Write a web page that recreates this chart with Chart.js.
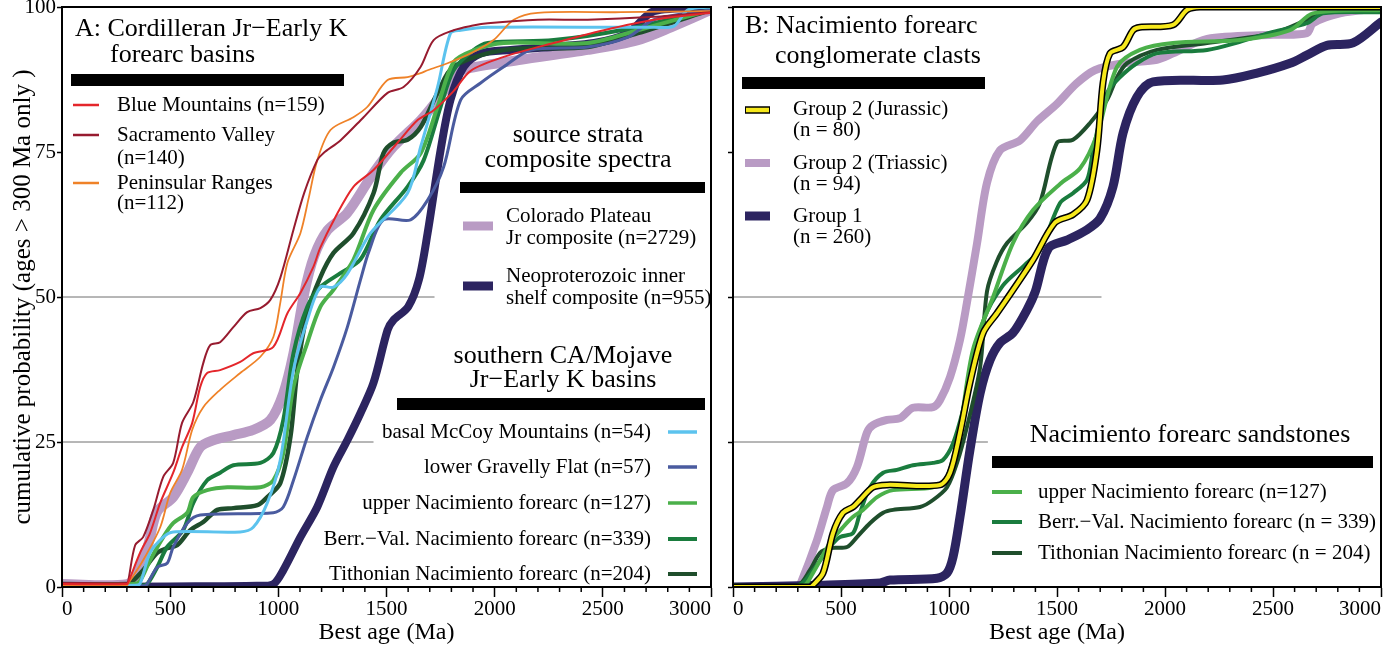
<!DOCTYPE html>
<html>
<head>
<meta charset="utf-8">
<script src="https://cdn.jsdelivr.net/npm/chart.js@4.4.1/dist/chart.umd.min.js"></script>
<style>
body { margin: 0; background: #fff; overflow: hidden; }
#wrapA { position: absolute; left: 0; top: -12px; width: 720px; height: 660px; }
#wrapB { position: absolute; left: 720px; top: 0; width: 675px; height: 648px; }
</style>
</head>
<body>
<div id="wrapA"><canvas id="panelA" width="720" height="660"></canvas></div>
<div id="wrapB"><canvas id="panelB" width="675" height="648"></canvas></div>
<script>
// axis ticks
const ageTicks = [0, 500, 1000, 1500, 2000, 2500, 3000];
const probTicks = [0, 25, 50, 75, 100];

// panel A: Cordilleran forearc basins
const ageBlueMtn = [0, 300, 306, 361, 407, 454, 514, 555, 602, 639, 671, 731, 824, 884, 977, 1042, 1102, 1162, 1194, 1260, 1347, 1440, 1551, 1644, 1718, 1810, 1889, 2042, 2273, 2505, 2736, 3000];
const cumBlueMtn = [0.5, 0.5, 0.8, 5.9, 9.3, 14.5, 19.7, 24.1, 28.3, 34.5, 36.9, 37.4, 38.8, 40.3, 41.4, 47.2, 50.7, 55.2, 58.5, 63.5, 69, 71.9, 76.6, 80.5, 82.2, 85.5, 89, 91.4, 93.8, 96, 97.8, 99];

const ageSacValley = [0, 300, 306, 338, 375, 422, 468, 514, 555, 607, 653, 685, 731, 792, 856, 917, 963, 1009, 1070, 1120, 1180, 1208, 1287, 1394, 1505, 1579, 1658, 1718, 1810, 1900, 1968, 2199, 2430, 2736, 3000];
const cumSacValley = [0.7, 0.7, 1, 7.2, 8.6, 13.3, 19, 21.4, 28.3, 31.9, 38.6, 41.7, 42.2, 44.8, 47.4, 48.1, 49.5, 53.3, 61.6, 68, 73.6, 74.8, 77, 81, 85.2, 86.2, 89.7, 94.3, 96, 96.8, 97.2, 97.8, 97.8, 98.3, 99.1];

const agePenRanges = [0, 300, 306, 375, 454, 500, 555, 602, 653, 731, 824, 917, 977, 1009, 1042, 1102, 1140, 1180, 1241, 1347, 1412, 1505, 1597, 1658, 1690, 1782, 1889, 1995, 2088, 2199, 2583, 3000];
const cumPenRanges = [0.3, 0.3, 0.6, 4.6, 10.3, 16.2, 20.2, 27.1, 31, 34, 36.9, 39.7, 43.1, 49, 55.9, 61, 67, 73.6, 78.8, 81, 82.8, 87.4, 87.9, 88.6, 89.1, 90.3, 92, 94.3, 97.8, 99, 99.1, 99.3];

const ageColPlateau = [0, 300, 350, 400, 440, 514, 579, 639, 699, 792, 884, 963, 1023, 1070, 1120, 1165, 1227, 1319, 1440, 1532, 1658, 1736, 1829, 1889, 2120, 2430, 2662, 2815, 3000];
const cumColPlateau = [0.5, 0.5, 2.5, 7.5, 13, 15.5, 19.7, 24.1, 25.3, 26.2, 27.1, 28.8, 33.4, 40.3, 50.7, 57, 61.5, 64.5, 71.4, 75.9, 80.5, 84, 88.6, 89.5, 90.9, 92.6, 94.3, 96.5, 99.5];

const ageNeoShelf = [0, 500, 900, 977, 1023, 1102, 1180, 1255, 1319, 1380, 1440, 1505, 1532, 1600, 1650, 1690, 1750, 1796, 1857, 1935, 2074, 2459, 2616, 2736, 3000];
const cumNeoShelf = [0, 0.1, 0.2, 0.5, 2.9, 8.6, 13.8, 20.7, 25.3, 30, 35.2, 44.3, 46, 48.3, 53, 61, 75.3, 84, 89.7, 92, 92.6, 93.8, 95.5, 99.3, 100];

const ageMcCoy = [0, 340, 361, 407, 468, 514, 824, 884, 949, 1009, 1070, 1134, 1194, 1255, 1319, 1426, 1597, 1658, 1736, 1796, 1843, 1968, 2736, 2829, 2893, 3000];
const cumMcCoy = [0.3, 0.3, 0.6, 5.9, 8.6, 9.5, 9.5, 10.3, 14.5, 21.9, 37.4, 46, 51.7, 51.7, 54, 61, 67.9, 75.9, 86.2, 95.5, 96, 96.5, 96.5, 96.7, 99.5, 100];

const ageGravelly = [0, 380, 393, 440, 486, 514, 579, 639, 977, 1023, 1070, 1134, 1194, 1255, 1319, 1380, 1420, 1486, 1611, 1690, 1764, 1843, 1935, 2042, 2167, 2430, 2616, 2736, 3000];
const cumGravelly = [0.2, 0.2, 0.5, 3.4, 4.1, 6.9, 11, 12.4, 12.8, 13.8, 18.4, 25.9, 32.2, 37.9, 44.8, 53, 58, 63.3, 63.3, 66.7, 72.4, 84, 86.9, 89.7, 92.6, 93.1, 94.8, 97.8, 99.5];

const ageUpperNacA = [0, 330, 360, 407, 468, 514, 579, 607, 671, 764, 917, 977, 1023, 1070, 1134, 1194, 1260, 1347, 1440, 1565, 1658, 1736, 1810, 1900, 2042, 2430, 2662, 3000];
const cumUpperNacA = [0.5, 0.5, 1, 4.6, 8.6, 11, 12.8, 15.5, 16.7, 17.2, 17.2, 18.4, 23.1, 34.5, 42.1, 48.3, 51.5, 56.4, 65, 71.4, 74.8, 82.8, 90.5, 92.5, 93.8, 93.8, 96, 99.5];

const ageBerrValA = [0, 380, 400, 440, 486, 560, 607, 671, 731, 792, 917, 977, 1023, 1070, 1134, 1194, 1287, 1380, 1472, 1597, 1672, 1750, 1810, 1900, 1968, 2273, 2583, 3000];
const cumBerrValA = [0.3, 0.3, 0.8, 3.4, 6.9, 9.8, 14.5, 18.4, 19.7, 21, 21.4, 23.1, 28.8, 40.3, 48.3, 51.7, 54.1, 56.5, 63.3, 69, 73.6, 82.8, 89.1, 92.5, 93.8, 94.3, 96, 99.5];

const ageTithA = [0, 300, 320, 375, 440, 486, 532, 593, 653, 718, 792, 903, 949, 1009, 1056, 1088, 1134, 1194, 1255, 1347, 1440, 1486, 1532, 1597, 1658, 1736, 1810, 2042, 2430, 2662, 3000];
const cumTithA = [0.5, 0.5, 0.8, 2.9, 5.9, 6.7, 7.2, 9.8, 11.2, 13.3, 13.6, 14.1, 15.5, 17.9, 25.9, 37.4, 47.2, 53.4, 57.6, 61, 67.9, 74.8, 76.6, 77.1, 79.3, 85.2, 89.7, 92.6, 93.1, 95.5, 99.5];

// panel B: Nacimiento forearc
const ageJurassic = [0, 360, 370, 417, 463, 509, 556, 588, 648, 713, 958, 1005, 1051, 1097, 1158, 1222, 1296, 1389, 1490, 1574, 1639, 1685, 1713, 1745, 1806, 1852, 1884, 2037, 2102, 2162, 3000];
const cumJurassic = [0, 0, 0.3, 2.4, 9.3, 12.8, 13.8, 15, 17.2, 17.6, 17.6, 19.7, 26.6, 35.2, 43.8, 47.2, 51.2, 56.4, 62.8, 64.2, 66.7, 75.3, 86.9, 92, 93.1, 96, 96.5, 96.9, 99.5, 100, 100];

const ageTriassic = [0, 300, 310, 389, 435, 463, 528, 574, 620, 648, 713, 773, 833, 926, 958, 1005, 1051, 1083, 1130, 1176, 1236, 1329, 1408, 1500, 1590, 1675, 1806, 1963, 2037, 2195, 2500, 2657, 2685, 2810, 3000];
const cumTriassic = [0, 0, 0.3, 8.1, 13.8, 16.7, 17.9, 20.7, 26.6, 27.9, 28.8, 29.1, 30.9, 31, 32.2, 36.2, 42.6, 49, 59.3, 69.7, 75.3, 77, 80.3, 83.3, 86.8, 89.1, 90.3, 90.9, 92, 94.5, 95.2, 95.5, 97.2, 98.9, 99.8];

const ageGroup1 = [0, 403, 681, 727, 944, 991, 1019, 1051, 1097, 1144, 1190, 1236, 1296, 1361, 1400, 1460, 1546, 1639, 1699, 1759, 1806, 1870, 1944, 2268, 2426, 2579, 2657, 2750, 2870, 3000];
const cumGroup1 = [0, 0.3, 0.7, 1.2, 1.5, 2.4, 5.2, 12.1, 23.6, 33.4, 39.1, 42.1, 43.8, 47.8, 51, 58.4, 59.8, 61.6, 63.5, 69, 78.3, 84.5, 87.1, 87.4, 88.6, 90.3, 91.7, 93.4, 93.8, 97.4];

const ageUpperNacB = [0, 324, 370, 449, 509, 556, 602, 667, 741, 926, 991, 1051, 1111, 1204, 1296, 1389, 1514, 1607, 1685, 1778, 1884, 2037, 2347, 2579, 2685, 3000];
const cumUpperNacB = [0.2, 0.2, 2.4, 7.6, 10.3, 12.1, 13.3, 15.5, 16.7, 17.2, 19, 27.6, 40.9, 50, 59.3, 65, 69.5, 72.2, 78, 89.7, 92.6, 93.8, 94.3, 96, 98.9, 99.5];

const ageBerrValB = [0, 300, 370, 449, 495, 556, 588, 634, 695, 759, 833, 926, 972, 1019, 1065, 1111, 1160, 1250, 1350, 1421, 1514, 1574, 1639, 1667, 1732, 1792, 1870, 1963, 2195, 2347, 2500, 2657, 2732, 3000];
const cumBerrValB = [0.2, 0.2, 2.9, 6.9, 8.6, 9.3, 12.8, 17.2, 19.7, 20.2, 21, 21.4, 21.9, 24.8, 30.5, 37.9, 46, 52, 55.5, 58.1, 66.2, 67.9, 70.2, 75.3, 85.2, 87.9, 90.3, 92, 92.6, 94, 95.7, 97.2, 98.9, 99.1];

const ageTithB = [0, 296, 356, 403, 449, 528, 574, 634, 695, 741, 866, 926, 991, 1037, 1083, 1144, 1176, 1220, 1269, 1361, 1421, 1500, 1574, 1653, 1732, 1778, 1824, 1963, 2195, 2500, 2657, 2732, 3000];
const cumTithB = [0.2, 0.2, 2.9, 5.9, 6.7, 6.9, 8.6, 11, 12.8, 13.3, 13.8, 15, 17.2, 21.4, 27.6, 37.9, 51, 56, 59.3, 62.8, 66.2, 76.6, 77.1, 80, 84, 87.9, 90.3, 92.6, 93.8, 95.5, 97.8, 99.5, 100];

// partial reference lines [end age, level]
const refLinesA = [[1722, 50], [1440, 25]];
const refLinesB = [[1706, 50], [1180, 25]];

const FONT = "'Liberation Serif', 'Times New Roman', serif";
Chart.defaults.font.family = FONT;
Chart.defaults.color = '#000';

const C = {
  red: '#e4262b', darkRed: '#971b2f', orange: '#ef8228',
  lilac: '#b99bc4', navy: '#2c2460', sky: '#5cc3ee', slate: '#4a5b9f',
  lightGreen: '#4bb04a', green: '#1a7c3e', darkGreen: '#1f4e2c',
  yellow: '#f6e81c', grid: '#6e6e6e'
};

function curve(label, ages, vals, color, width) {
  return {
    label: label,
    data: ages.map((a, i) => ({ x: a, y: vals[i] })),
    borderColor: color,
    borderWidth: width,
    pointRadius: 0,
    fill: false,
    tension: 0.3,
    borderCapStyle: 'round',
    borderJoinStyle: 'round'
  };
}

function refLine(r) {
  return {
    label: '',
    data: [{ x: 0, y: r[1] }, { x: r[0], y: r[1] }],
    borderColor: C.grid,
    borderWidth: 1,
    pointRadius: 0
  };
}

function scalesFor(showY, yWidth) {
  return {
    x: {
      type: 'linear', min: 0, max: 3000,
      afterBuildTicks: s => { s.ticks = ageTicks.map(v => ({ value: v })); },
      afterFit: s => { s.height = 61; },
      ticks: { align: 'inner', maxRotation: 0, padding: 0, font: { size: 21 }, callback: v => String(v) },
      grid: { drawOnChartArea: false, tickLength: 10, color: '#000', tickWidth: 1.5 },
      border: { color: '#000', width: 2 },
      title: { display: true, text: 'Best age (Ma)', font: { size: 24 }, padding: { top: 0, bottom: 1 } }
    },
    y: {
      type: 'linear', min: 0, max: 100,
      afterBuildTicks: s => { s.ticks = probTicks.map(v => ({ value: v })); },
      afterFit: s => { s.width = yWidth; },
      ticks: { display: showY, padding: 1, font: { size: 21 }, callback: v => String(v) },
      grid: { drawOnChartArea: false, tickLength: 5, color: '#000', tickWidth: 1.5 },
      border: { color: '#000', width: 2 },
      title: {
        display: showY, text: 'cumulative probability (ages > 300 Ma only )',
        font: { size: 25 }, padding: { top: 8, bottom: 0 }
      }
    }
  };
}

// frame, minor ticks and the in-plot legends
function decorPlugin(notes, offX, offY) {
  return {
    id: 'decor',
    afterDraw(chart) {
      const ctx = chart.ctx;
      const a = chart.chartArea;
      const xs = chart.scales.x;
      ctx.save();
      ctx.strokeStyle = '#000';
      ctx.lineWidth = 2;
      ctx.strokeRect(a.left, a.top, a.right - a.left, a.bottom - a.top);
      ctx.lineWidth = 1.5;
      for (let v = 100; v < 3000; v += 100) {
        if (v % 500 === 0) continue;
        const px = xs.getPixelForValue(v);
        ctx.beginPath();
        ctx.moveTo(px, a.bottom);
        ctx.lineTo(px, a.bottom + 5);
        ctx.stroke();
      }
      ctx.translate(offX, offY);
      ctx.fillStyle = '#000';
      notes.bars.forEach(b => ctx.fillRect(b[0], b[1], b[2], b[3]));
      ctx.lineCap = 'butt';
      notes.samples.forEach(s => {
        if (s[5]) {
          ctx.strokeStyle = '#000';
          ctx.lineWidth = s[4] + 3;
          ctx.beginPath(); ctx.moveTo(s[0] - 1, s[2]); ctx.lineTo(s[1] + 1, s[2]); ctx.stroke();
        }
        ctx.strokeStyle = s[3];
        ctx.lineWidth = s[4];
        ctx.beginPath(); ctx.moveTo(s[0], s[2]); ctx.lineTo(s[1], s[2]); ctx.stroke();
      });
      ctx.textBaseline = 'middle';
      notes.texts.forEach(t => {
        ctx.font = t[4] + 'px ' + FONT;
        ctx.textAlign = t[3];
        ctx.fillText(t[0], t[1], t[2]);
      });
      ctx.restore();
    }
  };
}

const notesA = {
  bars: [[71, 74, 273, 12], [460, 182, 245, 11], [397, 398, 308, 12]],
  samples: [
    [73, 99, 105, C.red, 2.5], [73, 99, 135, C.darkRed, 2.5], [73, 99, 183, C.orange, 2.5],
    [463, 493, 226, C.lilac, 9], [463, 493, 286, C.navy, 9],
    [668, 697, 432, C.sky, 3.5], [668, 697, 467, C.slate, 3.5], [668, 697, 503, C.lightGreen, 3.5],
    [668, 697, 539, C.green, 4], [668, 697, 574, C.darkGreen, 4]
  ],
  texts: [
    ['A: Cordilleran Jr\u2212Early K', 75, 29, 'left', 26],
    ['forearc basins', 110, 55, 'left', 26],
    ['Blue Mountains (n=159)', 117, 105, 'left', 21],
    ['Sacramento Valley', 117, 135, 'left', 21],
    ['(n=140)', 117, 158, 'left', 21],
    ['Peninsular Ranges', 117, 183, 'left', 21],
    ['(n=112)', 117, 203, 'left', 21],
    ['source strata', 578, 135, 'center', 26],
    ['composite spectra', 578, 160, 'center', 26],
    ['Colorado Plateau', 506, 216, 'left', 21],
    ['Jr composite (n=2729)', 506, 238, 'left', 21],
    ['Neoproterozoic inner', 506, 276, 'left', 21],
    ['shelf composite (n=955)', 506, 298, 'left', 21],
    ['southern CA/Mojave', 563, 356, 'center', 26],
    ['Jr\u2212Early K basins', 563, 380, 'center', 26],
    ['basal McCoy Mountains (n=54)', 651, 432, 'right', 21],
    ['lower Gravelly Flat (n=57)', 651, 467, 'right', 21],
    ['upper Nacimiento forearc (n=127)', 651, 503, 'right', 21],
    ['Berr.\u2212Val. Nacimiento forearc (n=339)', 651, 539, 'right', 21],
    ['Tithonian Nacimiento forearc (n=204)', 651, 574, 'right', 21]
  ]
};

const notesB = {
  bars: [[742, 77, 243, 12], [992, 456, 381, 12]],
  samples: [
    [746, 769, 110, C.yellow, 4.5, true], [745, 770, 163, C.lilac, 8], [745, 770, 216, C.navy, 9],
    [992, 1022, 492, C.lightGreen, 4], [992, 1022, 522, C.green, 4], [992, 1022, 553, C.darkGreen, 4]
  ],
  texts: [
    ['B: Nacimiento forearc', 745, 26, 'left', 26],
    ['conglomerate clasts', 775, 56, 'left', 26],
    ['Group 2 (Jurassic)', 793, 109, 'left', 21],
    ['(n = 80)', 793, 130, 'left', 21],
    ['Group 2 (Triassic)', 793, 163, 'left', 21],
    ['(n = 94)', 793, 184, 'left', 21],
    ['Group 1', 793, 216, 'left', 21],
    ['(n = 260)', 793, 237, 'left', 21],
    ['Nacimiento forearc sandstones', 1190, 435, 'center', 26],
    ['upper Nacimiento forearc (n=127)', 1038, 492, 'left', 21],
    ['Berr.\u2212Val. Nacimiento forearc (n = 339)', 1038, 522, 'left', 21],
    ['Tithonian Nacimiento forearc (n = 204)', 1038, 553, 'left', 21]
  ]
};

new Chart(document.getElementById('panelA').getContext('2d'), {
  type: 'line',
  data: {
    datasets: [
      curve('Blue Mountains (n=159)', ageBlueMtn, cumBlueMtn, C.red, 2),
      curve('Sacramento Valley (n=140)', ageSacValley, cumSacValley, C.darkRed, 2),
      curve('Peninsular Ranges (n=112)', agePenRanges, cumPenRanges, C.orange, 1.8),
      curve('basal McCoy Mountains (n=54)', ageMcCoy, cumMcCoy, C.sky, 3),
      curve('lower Gravelly Flat (n=57)', ageGravelly, cumGravelly, C.slate, 3),
      curve('upper Nacimiento forearc (n=127)', ageUpperNacA, cumUpperNacA, C.lightGreen, 4),
      curve('Berr.-Val. Nacimiento forearc (n=339)', ageBerrValA, cumBerrValA, C.green, 4),
      curve('Tithonian Nacimiento forearc (n=204)', ageTithA, cumTithA, C.darkGreen, 4.5),
      curve('Neoproterozoic inner shelf composite (n=955)', ageNeoShelf, cumNeoShelf, C.navy, 8),
      curve('Colorado Plateau Jr composite (n=2729)', ageColPlateau, cumColPlateau, C.lilac, 10),
      ...refLinesA.map(refLine)
    ]
  },
  options: {
    responsive: false,
    animation: false,
    layout: { padding: { top: 19, right: 9, left: 0, bottom: 0 } },
    plugins: { legend: { display: false }, tooltip: { enabled: false } },
    scales: scalesFor(true, 62)
  },
  plugins: [decorPlugin(notesA, 0, 12)]
});

new Chart(document.getElementById('panelB').getContext('2d'), {
  type: 'line',
  data: {
    datasets: [
      curve('Group 2 (Jurassic) (n = 80)', ageJurassic, cumJurassic, C.yellow, 4),
      curve('', ageJurassic, cumJurassic, '#000', 7),
      curve('upper Nacimiento forearc (n=127)', ageUpperNacB, cumUpperNacB, C.lightGreen, 4),
      curve('Berr.-Val. Nacimiento forearc (n = 339)', ageBerrValB, cumBerrValB, C.green, 4),
      curve('Tithonian Nacimiento forearc (n = 204)', ageTithB, cumTithB, C.darkGreen, 4),
      curve('Group 1 (n = 260)', ageGroup1, cumGroup1, C.navy, 9),
      curve('Group 2 (Triassic) (n = 94)', ageTriassic, cumTriassic, C.lilac, 8),
      ...refLinesB.map(refLine)
    ]
  },
  options: {
    responsive: false,
    animation: false,
    layout: { padding: { top: 7, right: 14, left: 0, bottom: 0 } },
    plugins: { legend: { display: false }, tooltip: { enabled: false } },
    scales: scalesFor(false, 13)
  },
  plugins: [decorPlugin(notesB, -720, 0)]
});
</script>
</body>
</html>
